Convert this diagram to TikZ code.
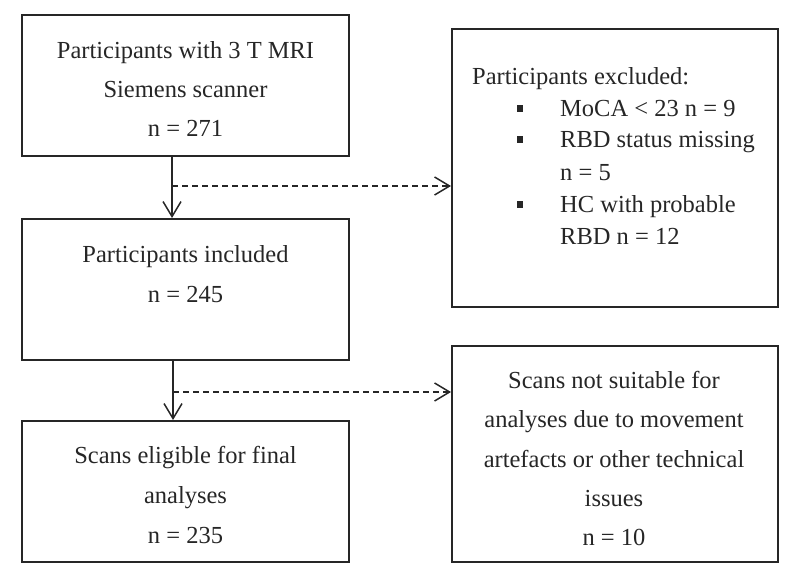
\documentclass[tikz,border=0pt]{standalone}
\usepackage{fontspec}
\setmainfont{Liberation Serif}
\usetikzlibrary{arrows.meta}
\begin{document}
\begin{tikzpicture}[x=1pt,y=-1pt,
  box/.style={draw=black!85, line width=2pt, inner sep=0pt},
  txt/.style={anchor=base, inner sep=0pt, font=\fontsize{24.5}{30}\selectfont, text=black!85},
  ltxt/.style={txt, anchor=base west},
  bul/.style={fill=black!85, inner sep=0pt, minimum size=6.5pt},
  arr/.style={draw=black!85, line width=1.5pt, -{Straight Barb[length=15pt,width=18pt,line width=1.5pt]}},
  dasharr/.style={arr, dash pattern=on 6pt off 4pt}]
\useasboundingbox (0,0) rectangle (800,585);
% boxes
\node[box, minimum width=327pt, minimum height=141pt] (a) at (185.5,85.5) {};
\node[box, minimum width=326pt, minimum height=278pt] (ex) at (615,168) {};
\node[box, minimum width=327pt, minimum height=141pt] (inc) at (185.5,289.5) {};
\node[box, minimum width=327pt, minimum height=141pt] (el) at (185.5,491.5) {};
\node[box, minimum width=326pt, minimum height=216pt] (ns) at (615,454) {};
% texts box a
\node[txt] (a1) at (185.5,59) {Participants with 3 T MRI};
\node[txt] (a2) at (185.5,98) {Siemens scanner};
\node[txt] (a3) at (185.5,137) {n = 271};
% texts box ex
\node[ltxt] (e0) at (472,85) {Participants excluded:};
\node[bul] (b1) at (520,108.5) {};
\node[ltxt] (e1) at (560,117) {MoCA < 23 n = 9};
\node[bul] (b2) at (520,139.5) {};
\node[ltxt] (e2) at (560,148) {RBD status missing};
\node[ltxt] (e3) at (560,181) {n = 5};
\node[bul] (b3) at (520,204.5) {};
\node[ltxt] (e4) at (560,213) {HC with probable};
\node[ltxt] (e5) at (560,245) {RBD n = 12};
% texts box inc
\node[txt] (i1) at (185.5,263) {Participants included};
\node[txt] (i2) at (185.5,302) {n = 245};
% texts box el
\node[txt] (l1) at (185.5,463) {Scans eligible for final};
\node[txt] (l2) at (185.5,503) {analyses};
\node[txt] (l3) at (185.5,543) {n = 235};
% texts box ns
\node[txt] (n1) at (614,388) {Scans not suitable for};
\node[txt] (n2) at (614,427) {analyses due to movement};
\node[txt] (n3) at (614,467) {artefacts or other technical};
\node[txt] (n4) at (614,506) {issues};
\node[txt] (n5) at (614,545) {n = 10};
% connectors
\draw[arr] ([xshift=-13.5pt]a.south) -- ([xshift=-13.5pt]inc.north);
\coordinate (j1) at (172,186);
\draw[dasharr] (j1) -- (j1 -| ex.west);
\draw[arr] ([xshift=-12.5pt]inc.south) -- ([xshift=-12.5pt]el.north);
\coordinate (j2) at (173,392);
\draw[dasharr] (j2) -- (j2 -| ns.west);
\end{tikzpicture}
\end{document}
